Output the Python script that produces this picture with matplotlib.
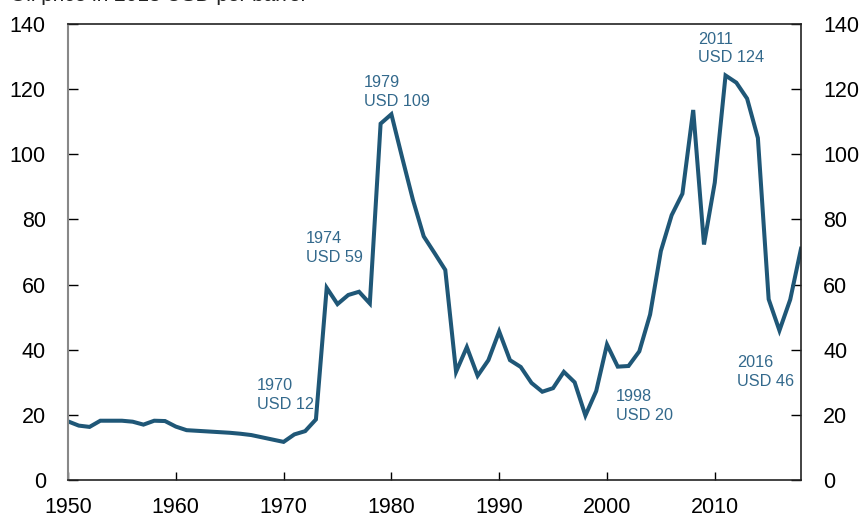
import numpy as np
import matplotlib.pyplot as plt

plt.rcParams['font.family'] = ['Liberation Sans', 'DejaVu Sans']

# Oljepris, USD per fat
years = list(range(1950, 2019))
price = [18.0, 16.7, 16.3, 18.2, 18.2, 18.2, 17.9, 17.0, 18.2, 18.1,
         16.4, 15.3, 15.1, 14.9, 14.7, 14.5, 14.2, 13.8, 13.1, 12.4,
         11.7, 14.0, 15.0, 18.6, 59.0, 54.0, 56.8, 57.8, 54.2, 109.4,
         112.3, 99.0, 86.0, 74.8, 69.7, 64.5, 33.2, 40.8, 32.0, 36.8,
         45.6, 36.8, 34.7, 29.8, 27.1, 28.2, 33.2, 30.0, 19.8, 27.3,
         41.6, 34.8, 35.0, 39.5, 50.8, 70.3, 81.3, 87.9, 113.6, 72.3,
         91.3, 124.2, 122.0, 117.1, 105.0, 55.5, 45.9, 55.4, 71.0]

notes = ['1970\nUSD 12', '1974\nUSD 59', '1979\nUSD 109', '1998\nUSD 20',
         '2011\nUSD 124', '2016\nUSD 46']
note_x = [1967.5, 1972.1, 1977.45, 2000.85, 2008.45, 2012.05]
note_y = [31.3, 76.3, 124.3, 27.8, 137.6, 38.3]

line_col = '#1f5777'
text_col = '#33698c'

fig = plt.figure(figsize=(8.62, 5.2), dpi=100)
ax = fig.add_axes([68 / 862, 40 / 520, 733 / 862, 456 / 520])

ax.plot(years, price, color=line_col, lw=2.9, solid_joinstyle='miter')

for t, x, y in zip(notes, note_x, note_y):
    ax.text(x, y, t, color=text_col, fontsize=11.7, ha='left', va='top',
            linespacing=1.3)

ax.set_xlim(1950, 2018)
ax.set_ylim(0, 140)
ax.set_xticks(np.arange(1950, 2011, 10))
ax.set_yticks(np.arange(0, 141, 20))

ax.tick_params(axis='both', direction='in', labelsize=15.5, colors='black')
ax.tick_params(axis='y', length=7, width=1, pad=16,
               left=True, right=True, labelleft=True, labelright=True)
ax.tick_params(axis='x', length=6, width=1, pad=12)

ax.spines['left'].set_color('#888888')
ax.spines['left'].set_linewidth(1.5)
for s in ['right', 'top', 'bottom']:
    ax.spines[s].set_color('#222222')
    ax.spines[s].set_linewidth(1.2)

# tittel er avkuttet i originalen
fig.text(10 / 862, 1 - 0.8 / 520, 'Oil price in 2018 USD per barrel',
         fontsize=15, ha='left', va='baseline', color='#222222')

fig.savefig('out.png', dpi=100)
